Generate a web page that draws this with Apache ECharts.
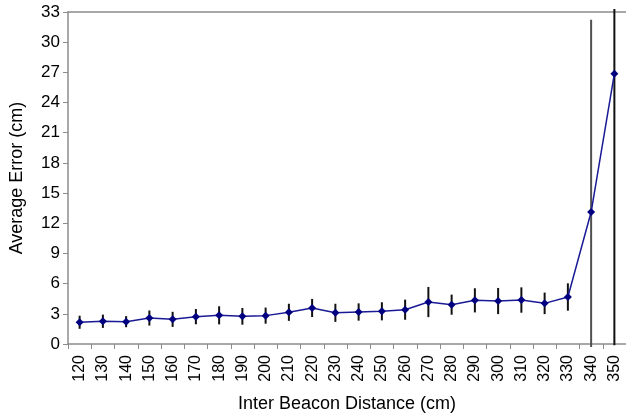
<!DOCTYPE html>
<html>
<head>
<meta charset="utf-8">
<script src="https://cdn.jsdelivr.net/npm/echarts@6/dist/echarts.min.js"></script>
<style>html,body{margin:0;padding:0;background:#fff;}#c{width:626px;height:419px;}</style>
</head>
<body>
<div id="c"></div>
<script>
var categories = ['120','130','140','150','160','170','180','190','200','210','220','230','240','250','260','270','280','290','300','310','320','330','340','350'];
var meanError = [2.16,2.26,2.22,2.58,2.45,2.72,2.85,2.75,2.82,3.15,3.58,3.10,3.18,3.25,3.41,4.17,3.91,4.34,4.27,4.37,4.04,4.67,13.12,26.87];
var errorSize = [0.65,0.66,0.55,0.75,0.75,0.76,0.90,0.83,0.80,0.85,0.90,0.90,0.86,0.90,1.00,1.50,1.00,1.20,1.30,1.26,1.07,1.36,19.10,27.00];
var yTicks = {min: 0, max: 33, interval: 3};

var errData = meanError.map(function (m, i) { return [i, m - errorSize[i], m + errorSize[i]]; });

var chart = echarts.init(document.getElementById('c'), null, {renderer: 'canvas'});
var font = '"Liberation Sans", Arial, sans-serif';
chart.setOption({
  animation: false,
  backgroundColor: '#fff',
  grid: {left: 65, right: 0, top: 12, bottom: 75, containLabel: false},
  xAxis: [{
    type: 'category',
    data: categories,
    boundaryGap: true,
    axisLine: {lineStyle: {color: '#8c8c8c', width: 1.5}},
    axisTick: {show: true, length: 5, interval: 0, lineStyle: {color: '#8c8c8c'}},
    axisLabel: {rotate: 90, interval: 0, color: '#000', fontSize: 16, fontFamily: font, margin: 11},
    name: 'Inter Beacon Distance (cm)',
    nameLocation: 'middle',
    nameGap: 51,
    nameTextStyle: {color: '#000', fontSize: 18, fontFamily: font}
  }, {
    type: 'category',
    data: categories,
    position: 'top',
    axisLine: {lineStyle: {color: '#8c8c8c', width: 1.5}},
    axisTick: {show: false},
    axisLabel: {show: false}
  }],
  yAxis: {
    type: 'value',
    min: yTicks.min, max: yTicks.max, interval: yTicks.interval,
    axisLine: {show: true, lineStyle: {color: '#8c8c8c', width: 1.5}},
    axisTick: {show: true, length: 5, lineStyle: {color: '#8c8c8c'}},
    splitLine: {show: false},
    axisLabel: {color: '#000', fontSize: 17, fontFamily: font, margin: 8},
    name: 'Average Error (cm)',
    nameLocation: 'middle',
    nameGap: 42,
    nameTextStyle: {color: '#000', fontSize: 18, fontFamily: font}
  },
  series: [{
    type: 'custom',
    clip: false,
    z: 2,
    data: errData,
    renderItem: function (params, api) {
      var i = api.value(0);
      var lo = Math.max(api.value(1), -0.3);
      var hi = Math.min(api.value(2), 33.3);
      var p1 = api.coord([i, lo]);
      var p2 = api.coord([i, hi]);
      return {
        type: 'line',
        shape: {x1: p1[0], y1: p1[1], x2: p2[0], y2: p2[1]},
        style: {stroke: params.dataIndex === 22 ? '#505050' : '#111', lineWidth: 2}
      };
    }
  }, {
    type: 'line',
    z: 3,
    data: meanError,
    symbol: 'diamond',
    symbolSize: 8,
    itemStyle: {color: '#000080'},
    lineStyle: {color: '#1a1a96', width: 1.5}
  }]
});
</script>
</body>
</html>
